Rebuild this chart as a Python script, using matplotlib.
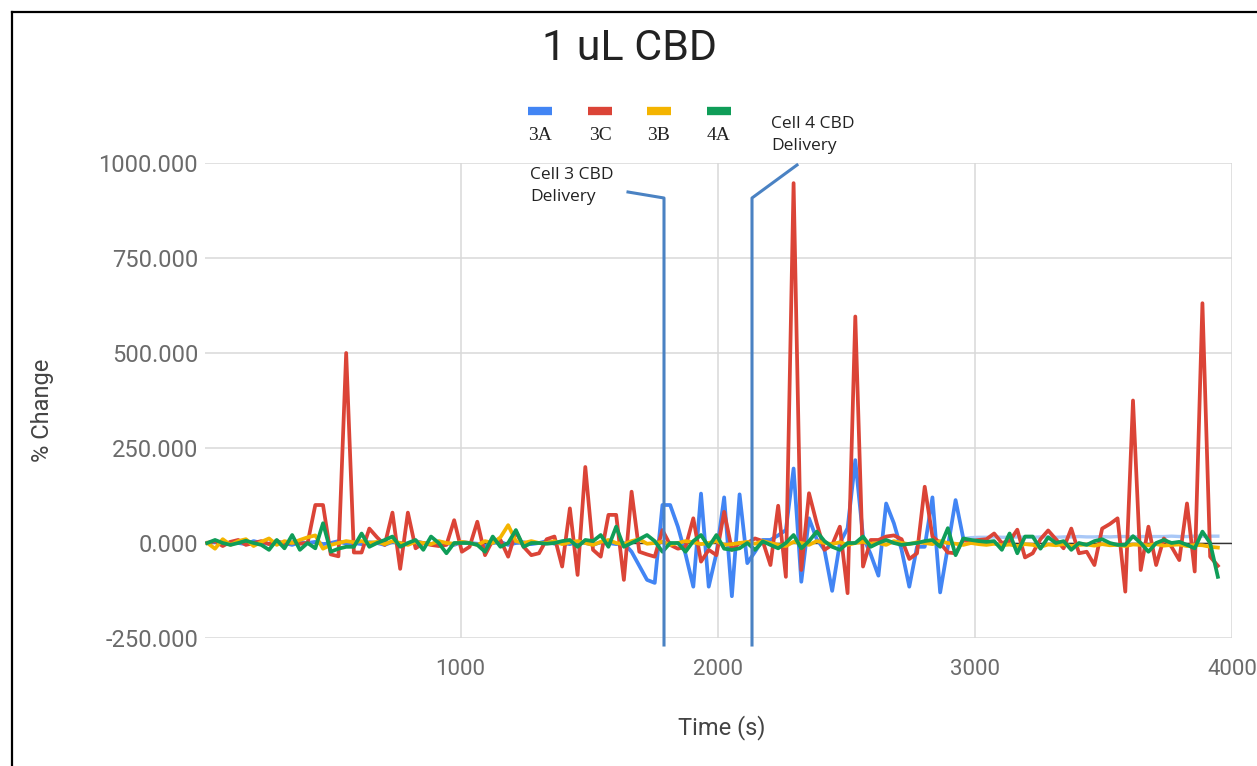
import matplotlib.pyplot as plt
from matplotlib.lines import Line2D

save_path = "out.png"

# sampling times (s), one reading every 30 s
time_s = list(range(15, 3960, 30))

# % change per cell
cell_3a = [0, 3, -5, 2, 0, -3, 5, 0, -2, 3,
           0, -5, 2, 0, 3, -3, 0, 5, -2, 0,
           -3, 2, 0, -5, 3, 0, -2, 5, 0, -3,
           2, 0, -5, 3, 0, -2, -8, 0, 3, -5,
           0, 2, -3, 0, 5, -2, 0, -3, 3, 0,
           -5, 2, 0, -3, 0, -23, -60, -97, -105, 100,
           100, 43, -30, -115, 130, -115, -27, 120, -140, 128,
           -53, -23, 8, 8, 20, 34, 196, -102, 65, 10,
           -18, -126, 0, 39, 218, 17, -30, -86, 104, 52,
           -18, -115, -10, -10, 120, -130, -10, 113, 12, 14,
           15, 15, 16, 15, 15, 16, 15, 15, 16, 16,
           15, 16, 16, 17, 16, 16, 17, 16, 17, 17,
           16, 17, 17, 17, 17, 18, 17, 17, 18, 18,
           18, 18]
cell_3c = [0, 5, -8, 3, 8, -5, 0, 5, -3, 6,
           -4, 2, -2, 0, 100, 100, -30, -35, 500, -25,
           -25, 38, 15, -5, 80, -68, 80, -14, 0, -5,
           -8, -5, 60, -23, -10, 56, -32, 8, 8, -36,
           30, -10, -32, -27, 10, 17, -62, 91, -84, 200,
           -18, -36, 74, 74, -97, 135, -23, -30, -36, 34,
           -5, -15, -10, 65, -49, -18, -32, 82, -18, 0,
           0, 12, 5, -58, 98, -89, 947, -71, 131, 52,
           -18, -5, 43, -132, 596, -62, 8, 8, 17, 20,
           10, -42, -27, 148, 17, 0, -25, -27, 8, 5,
           8, 10, 25, 0, 5, 35, -38, -27, 10, 33,
           10, -14, 38, -27, -23, -58, 38, 50, 65, -128,
           375, -71, 43, -58, 12, -10, -45, 104, -75, 631,
           -36, -60]
cell_3b = [0, -15, 10, -5, 5, 10, -8, 3, 12, -5,
           5, 0, 8, 15, 20, -15, -5, 0, 5, 2,
           5, 0, 3, -3, 5, 0, -5, 3, 0, -3,
           5, 0, -2, 3, 0, -5, 5, 0, 15, 47,
           5, 0, 5, 0, 0, 5, -3, 2, 5, 0,
           -5, 3, 8, 0, -3, 5, 10, -2, 0, 3,
           -5, 0, 5, 2, -3, 0, 5, -5, -3, 0,
           3, -2, 5, 0, -5, -8, 3, 0, -5, 5,
           0, -3, 2, -5, 0, 3, -2, 0, -5, 5,
           0, -3, 2, 0, -3, 5, 0, -2, -5, 0,
           -3, -5, -2, -6, -4, -8, -3, -5, -10, -4,
           -6, -3, -8, -5, -4, -7, -3, -6, -5, -8,
           -4, -5, -6, -3, -7, -5, -4, -8, -5, -6,
           -10, -12]
cell_4a = [0, 8, 0, -5, 0, 6, 0, -5, -18, 8,
           -14, 21, -18, 0, -14, 52, -23, -15, -10, -10,
           25, -10, 0, 8, 17, -10, 0, 8, -18, 17,
           0, -27, 0, 0, 0, -5, -23, 17, -10, 0,
           34, -10, 0, 0, -2, 0, 5, 8, -10, 8,
           5, 21, -10, 43, -10, 0, 10, 21, 5, -23,
           0, 0, -23, 5, 21, -10, 21, -15, -18, -14,
           0, -18, 4, -5, -14, 0, 21, -14, 5, 30,
           5, -10, -18, 0, 0, 17, -10, 0, 8, 0,
           -5, -2, 0, 5, 8, -10, 39, -32, 12, 8,
           5, 3, 5, -18, 25, -27, 17, 17, -15, 15,
           0, 5, -18, 0, -5, 5, 10, 0, -5, -5,
           18, 0, -23, 0, 8, 0, 3, -5, -14, 30,
           0, -89]

series_names = ['3A', '3C', '3B', '4A']
series_colors = ['#4285f4', '#db4437', '#f4b400', '#0f9d58']

y_ticks = [-250, 0, 250, 500, 750, 1000]
x_ticks = [1000, 2000, 3000, 4000]

W, H = 1257, 766


def fpos(x, y):
    # pixel position -> figure fraction
    return x / W, 1 - y / H


fig = plt.figure(figsize=(W / 100, H / 100), dpi=100)
ax = fig.add_axes([205 / W, 1 - 638 / H, 1027 / W, 475 / H])

# grid and the darker zero baseline
ax.grid(True, color='#d9d9d9', linewidth=1.1)
ax.set_axisbelow(True)
ax.axhline(0, color='#333333', linewidth=1.0, zorder=1)

# 3A flattens out after ~2900 s and shows up pale there
flat_from = 98
ax.plot(time_s[flat_from:], cell_3a[flat_from:], color='#a9c8f7',
        linewidth=2.4, zorder=2)
ax.plot(time_s[:flat_from + 1], cell_3a[:flat_from + 1], color=series_colors[0],
        linewidth=2.7, zorder=2, solid_joinstyle='round')
for vals, col in zip([cell_3c, cell_3b, cell_4a], series_colors[1:]):
    ax.plot(time_s, vals, color=col, linewidth=2.7, zorder=2,
            solid_joinstyle='round')

ax.set_xlim(6, 4000)
ax.set_ylim(-250, 1000)
ax.set_yticks(y_ticks)
ax.set_yticklabels([f'{v:.3f}' for v in y_ticks])
ax.set_xticks(x_ticks)
for s in ax.spines.values():
    s.set_visible(False)
ax.tick_params(length=0, labelcolor='#6b6b6b')
ax.tick_params(axis='x', pad=15, labelsize=16)
ax.tick_params(axis='y', pad=5, labelsize=17)
for lab in ax.get_xticklabels() + ax.get_yticklabels():
    lab.set_fontfamily('Roboto')

# titles and axis labels
fig.text(*fpos(630, 48), '1 uL CBD', ha='center', va='center',
         fontsize=31, family='Roboto', color='#222222')
fig.text(*fpos(722, 728), 'Time (s)', ha='center', va='center',
         fontsize=17, family='Roboto', color='#444444')
fig.text(*fpos(43, 410), '% Change', ha='center', va='center', rotation=90,
         fontsize=17, family='Roboto', color='#444444')

# legend: colour bars with labels underneath
for cx, name, col in zip([540, 600, 659, 719], series_names, series_colors):
    x0, y0 = fpos(cx - 12, 111)
    x1, _ = fpos(cx + 12, 111)
    fig.add_artist(Line2D([x0, x1], [y0, y0], color=col, linewidth=6,
                          solid_capstyle='butt', transform=fig.transFigure))
    fig.text(*fpos(cx, 136), name, ha='center', va='center',
             fontsize=14, family='Liberation Serif', color='#222222')

# delivery callouts
call_col = '#4a82c3'
for pts in [[(628, 192), (664, 198), (664, 645)],
            [(797, 165), (752, 198), (752, 645)]]:
    xs = [fpos(x, y)[0] for x, y in pts]
    ys = [fpos(x, y)[1] for x, y in pts]
    fig.add_artist(Line2D(xs, ys, color=call_col, linewidth=2.2,
                          transform=fig.transFigure))
fig.text(*fpos(530, 186), 'Cell 3 CBD\nDelivery', ha='left', va='center',
         fontsize=12.5, family='Open Sans', color='#222222', linespacing=1.45)
fig.text(*fpos(771, 135), 'Cell 4 CBD\nDelivery', ha='left', va='center',
         fontsize=12.5, family='Open Sans', color='#222222', linespacing=1.45)

# black frame along the top and left edge
fig.add_artist(Line2D([12 / W, 12 / W], [0, 1 - 12 / H], color='black',
                      linewidth=1.6, transform=fig.transFigure))
fig.add_artist(Line2D([12 / W, 1], [1 - 12 / H, 1 - 12 / H], color='black',
                      linewidth=1.6, transform=fig.transFigure))

plt.savefig(save_path, dpi=100)
